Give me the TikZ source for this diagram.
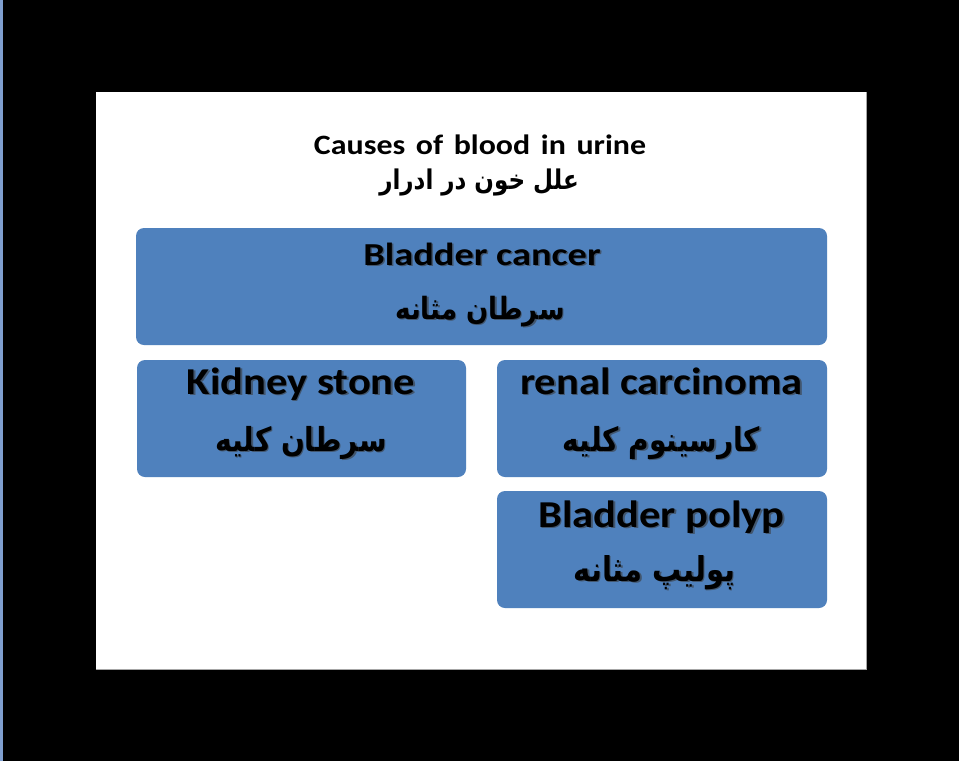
\documentclass[tikz,border=0pt]{standalone}
\usepackage{fontspec}
\setmainfont{Carlito}
\newfontfamily\arabicfont[Script=Arabic]{DejaVu Sans}
\TeXXeTstate=1
\definecolor{boxblue}{HTML}{4F81BD}
\definecolor{sideblue}{HTML}{7F9FCF}
\definecolor{shadowgray}{HTML}{3A3A3A}
\colorlet{shadowmix}{shadowgray!60!boxblue}
\newcommand{\artall}[1]{\scalebox{1}[1.18]{\beginR #1\endR}}
\newcommand{\enwide}[2]{\scalebox{#1}[1]{#2}}
\newcommand{\shd}[1]{\makebox[0pt][l]{\hspace{1.5pt}\raisebox{-1.5pt}{\color{shadowmix}#1}}#1}
\begin{document}
\begin{tikzpicture}[x=1pt,y=-1pt,
  cbox/.style={fill=boxblue, rounded corners=8pt, inner sep=0pt},
  entext/.style={anchor=base, inner sep=0pt, font=\bfseries\fontsize{#1}{#1}\selectfont},
  artext/.style={anchor=base, inner sep=0pt, font=\arabicfont\bfseries\fontsize{#1}{#1}\selectfont}]
\useasboundingbox (0,0) rectangle (959,761);
\fill[black] (0,0) rectangle (959,761);
\fill[sideblue] (0,0) rectangle (2.5,761);
\fill[white] (96,92) rectangle (866,669);
\draw[gray!70, line width=1pt] (96,669) -- (866,669) -- (866,92);
% boxes
\node[cbox, minimum width=691pt, minimum height=117pt] (bc) at (481.5,286.5) {};
\node[cbox, minimum width=329pt, minimum height=117pt] (ks) at (301.5,418.5) {};
\node[cbox, minimum width=330pt, minimum height=117pt] (rc) at (662,418.5) {};
\node[cbox, minimum width=330pt, minimum height=117pt] (bp) at (662,549.5) {};
% title
\node[entext=28] (t1) at (480,154) {\enwide{1.14}{Causes\hspace{3pt} of\hspace{3pt} blood\hspace{3pt} in\hspace{3pt} urine}};
\node[artext=23] (t2) at (479,189) {\artall{علل خون در ادرار}};
% bladder cancer
\node[entext=32] (bc1) at (482,265) {\shd{\enwide{1.2}{Bladder cancer}}};
\node[artext=26] (bc2) at (480,319) {\shd{\artall{سرطان مثانه}}};
% kidney stone
\node[entext=38] (ks1) at (301,394) {\shd{\enwide{1.12}{Kidney stone}}};
\node[artext=28] (ks2) at (301,451) {\shd{\artall{سرطان کلیه}}};
% renal carcinoma
\node[entext=38] (rc1) at (661.5,394) {\shd{\enwide{1.12}{renal carcinoma}}};
\node[artext=28] (rc2) at (661.5,451) {\shd{\artall{کارسینوم کلیه}}};
% bladder polyp
\node[entext=38] (bp1) at (661.5,527) {\shd{\enwide{1.12}{Bladder polyp}}};
\node[artext=29] (bp2) at (654.5,581) {\shd{\artall{پولیپ مثانه}}};
\end{tikzpicture}
\end{document}
